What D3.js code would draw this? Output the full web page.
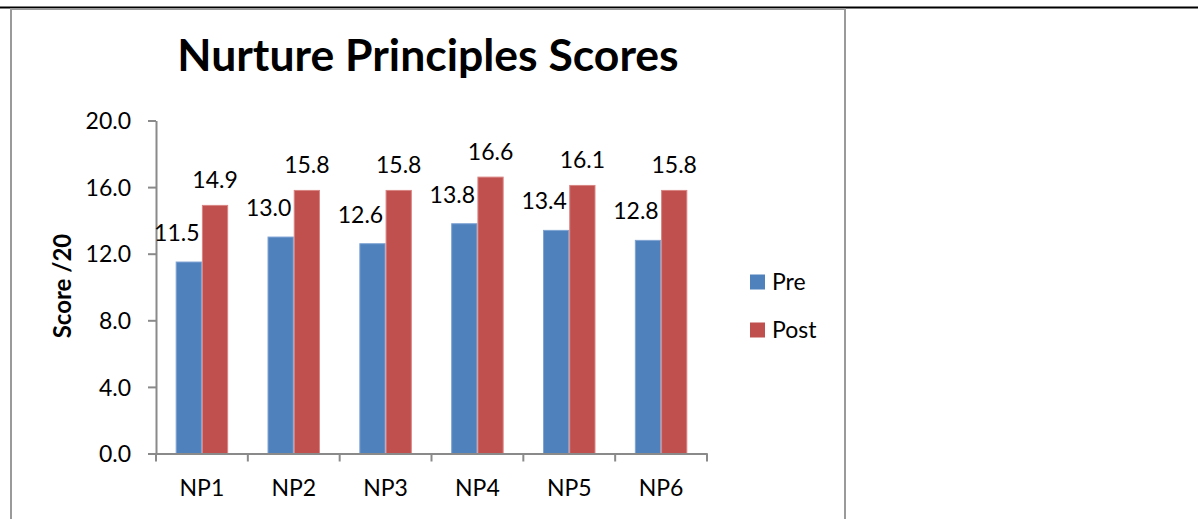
<!DOCTYPE html>
<html>
<head>
<meta charset="utf-8">
<script src="https://cdn.jsdelivr.net/npm/d3@7"></script>
<style>
  html, body { margin: 0; padding: 0; background: #fff; }
  svg { display: block; font-family: Lato, "Open Sans", sans-serif; }
</style>
</head>
<body>
<svg id="chart" width="1198" height="519"></svg>
<script>
const categories = ["NP1", "NP2", "NP3", "NP4", "NP5", "NP6"];
const seriesNames = ["Pre", "Post"];
const preValues = [11.5, 13.0, 12.6, 13.8, 13.4, 12.8];
const postValues = [14.9, 15.8, 15.8, 16.6, 16.1, 15.8];
const yTicks = [0, 4, 8, 12, 16, 20];
const titleText = "Nurture Principles Scores";
const yAxisTitle = "Score /20";

const colors = { Pre: "#4F81BD", Post: "#C0504D" };
const strokes = { Pre: "#7FA3D3", Post: "#D88583" };
const axisColor = "#8A8A8A";
const fs = 23;

const svg = d3.select("#chart");

// page decorations: table rule and chart frame
svg.append("line").attr("x1", 0).attr("x2", 1198).attr("y1", 7.5).attr("y2", 7.5)
  .attr("stroke", "#000").attr("stroke-width", 2);
svg.append("rect").attr("x", 11).attr("y", 9).attr("width", 834).attr("height", 600)
  .attr("fill", "#fff").attr("stroke", "#9A9A9A").attr("stroke-width", 2);

const x0 = d3.scaleBand().domain(categories).range([156, 707]).padding(0);
const x1 = d3.scaleBand().domain(seriesNames).range([0, x0.bandwidth()]).paddingInner(0).paddingOuter(0.75);
const y = d3.scaleLinear().domain([0, 20]).range([453.5, 120.5]);

// title
svg.append("text").attr("x", 428).attr("y", 71).attr("text-anchor", "middle")
  .attr("font-weight", "bold").attr("font-size", 44.5).attr("fill", "#000").text(titleText);

// y axis
const yAxis = d3.axisLeft(y).tickValues(yTicks).tickFormat(d3.format(".1f"))
  .tickSizeInner(8).tickSizeOuter(0).tickPadding(17);
const gy = svg.append("g").attr("transform", "translate(156,0)").call(yAxis);
gy.select(".domain").attr("stroke", axisColor).attr("stroke-width", 2);
gy.selectAll(".tick line").attr("stroke", axisColor).attr("stroke-width", 2);
gy.selectAll(".tick text").attr("font-size", fs).attr("font-family", "Lato").attr("fill", "#000").attr("dy", "0.36em");

// y axis title
svg.append("text").attr("transform", "translate(71,286) rotate(-90)")
  .attr("text-anchor", "middle").attr("font-weight", "bold").attr("font-size", 24)
  .attr("fill", "#000").text(yAxisTitle);

// bars
const data = categories.map((c, i) => ({ cat: c, Pre: preValues[i], Post: postValues[i] }));
const groups = svg.append("g").selectAll("g").data(data).join("g")
  .attr("transform", d => `translate(${x0(d.cat)},0)`);
groups.selectAll("rect").data(d => seriesNames.map(s => ({ s, v: d[s] }))).join("rect")
  .attr("x", d => x1(d.s) + 0.5)
  .attr("width", x1.bandwidth() - 1)
  .attr("y", d => y(d.v))
  .attr("height", d => y(0) - y(d.v))
  .attr("fill", d => colors[d.s])
  .attr("stroke", d => strokes[d.s]).attr("stroke-width", 1);

// data labels
groups.selectAll("text.lbl").data(d => seriesNames.map(s => ({ s, v: d[s] }))).join("text")
  .attr("class", "lbl")
  .attr("x", d => x1(d.s) + x1.bandwidth() / 2 + (d.s === "Pre" ? -12 : 0))
  .attr("y", d => y(d.v) - (d.s === "Pre" ? 21 : 17.5))
  .attr("text-anchor", "middle").attr("font-size", fs).attr("fill", "#000")
  .text(d => d3.format(".1f")(d.v));

// x axis
const xAxis = d3.axisBottom(x0).tickSize(0).tickPadding(0);
const gx = svg.append("g").attr("transform", `translate(0,${y(0)})`).call(xAxis);
gx.select(".domain").attr("stroke", axisColor).attr("stroke-width", 2);
gx.selectAll(".tick text").attr("font-size", fs).attr("font-family", "Lato").attr("fill", "#000")
  .attr("y", 42.5).attr("dy", 0);
const boundaries = categories.map(c => x0(c)).concat([x0(categories[categories.length - 1]) + x0.bandwidth()]);
gx.selectAll("line.bt").data(boundaries).join("line").attr("class", "bt")
  .attr("x1", d => d).attr("x2", d => d).attr("y1", 0).attr("y2", 8)
  .attr("stroke", axisColor).attr("stroke-width", 2);

// legend
const legend = svg.append("g").selectAll("g").data(seriesNames).join("g")
  .attr("transform", (d, i) => `translate(750,${274.5 + i * 48})`);
legend.append("rect").attr("width", 15).attr("height", 15).attr("fill", d => colors[d]);
legend.append("text").attr("x", 22).attr("y", 15.5).attr("font-size", fs).attr("fill", "#000").text(d => d);
</script>
</body>
</html>
